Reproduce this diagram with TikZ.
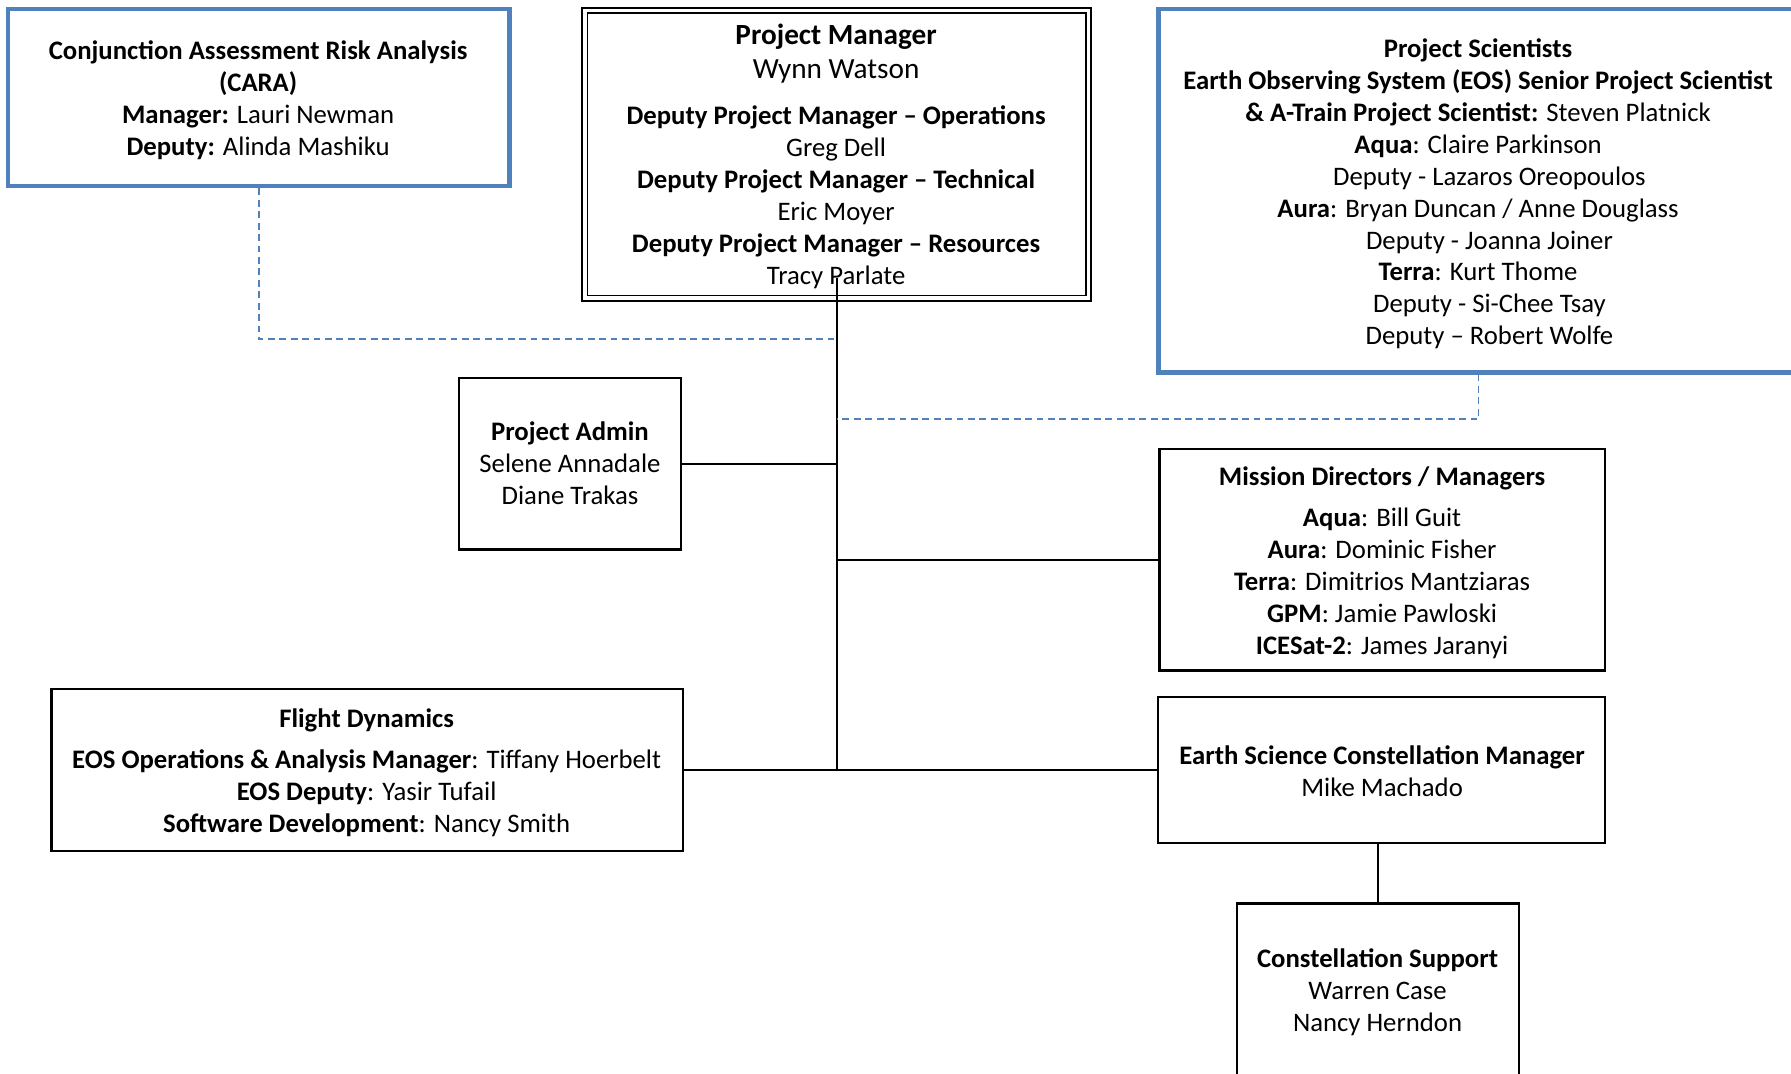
\documentclass[tikz,border=0pt]{standalone}
\usepackage{fontspec}
\setmainfont{Carlito}
\usetikzlibrary{fit}
\definecolor{ablue}{RGB}{79,129,189}
\begin{document}
\begin{tikzpicture}[x=0.5pt,y=-0.5pt,
  bluebox/.style={draw=ablue,line width=2pt,inner sep=0pt},
  blkbox/.style={draw=black,line width=1pt,inner sep=0pt},
  dblbox/.style={draw=black,double,line width=0.75pt,double distance=1.5pt,inner sep=0pt},
  txt/.style={align=center,anchor=base,inner sep=0pt,font=\fontsize{11.7}{14}\selectfont},
  conn/.style={line width=0.75pt},
  dashconn/.style={draw=ablue,line width=0.75pt,dash pattern=on 3pt off 2pt}]
\useasboundingbox (0,0) rectangle (1568,940);
\clip (0,0) rectangle (1568,940);
\fill[white] (0,0) rectangle (1568,940);
% boxes
\node[bluebox,fit={(7,8) (446,163)}] (cara) {};
\node[dblbox,fit={(512,9) (953,261)}] (pm) {};
\node[bluebox,fit={(1014,8) (1575,326)}] (ps) {};
\node[blkbox,fit={(402,331) (596,481)}] (admin) {};
\node[blkbox,fit={(1015,393) (1405,587)}] (md) {};
\node[blkbox,fit={(45,603) (598,745)}] (fd) {};
\node[blkbox,fit={(1014,610) (1405,738)}] (escm) {};
\node[blkbox,fit={(1083,791) (1330,960)}] (cs) {};
% connectors
\coordinate (ttop) at ([yshift=9pt]pm.south);
\coordinate (tbot) at (ttop |- fd.east);
\coordinate (cj) at (ttop |- 0,297);
\coordinate (pj) at (ttop |- 0,367);
\draw[conn] (ttop) -- (tbot);
\draw[conn] (admin.east) -- (admin.east -| ttop);
\draw[conn] (md.west) -- (md.west -| ttop);
\draw[conn] (fd.east) -- (escm.west);
\draw[conn] (cs.north) -- (cs.north |- escm.south);
\draw[dashconn] (cara.south) |- (cj);
\draw[dashconn] (ps.south) |- (pj);
% texts (anchor = baseline of the last line)
\node[txt] (caratxt) at (226,136) {\textbf{Conjunction Assessment Risk Analysis}\\\textbf{(CARA)}\\\textbf{Manager:} Lauri Newman\\\textbf{Deputy:} Alinda Mashiku};
\node[txt,font=\fontsize{12.8}{15}\selectfont] (pmhead) at (732,69) {\textbf{Project Manager}\\Wynn Watson};
\node[txt] (pmdep) at (732,249) {\textbf{Deputy Project Manager – Operations}\\Greg Dell\\\textbf{Deputy Project Manager – Technical}\\Eric Moyer\\\textbf{Deputy Project Manager – Resources}\\Tracy Parlate};
\node[txt] (pstxt) at (1294,302) {\textbf{Project Scientists}\\\textbf{Earth Observing System (EOS) Senior Project Scientist}\\\textbf{\& A-Train Project Scientist:} Steven Platnick\\\textbf{Aqua}: Claire Parkinson\\\kern10pt Deputy - Lazaros Oreopoulos\\\textbf{Aura}: Bryan Duncan / Anne Douglass\\\kern10pt Deputy - Joanna Joiner\\\textbf{Terra}: Kurt Thome\\\kern10pt Deputy - Si-Chee Tsay\\\kern10pt Deputy – Robert Wolfe};
\node[txt] (admintxt) at (499,442) {\textbf{Project Admin}\\Selene Annadale\\Diane Trakas};
\node[txt] (mdtxt) at (1210,573) {\textbf{Mission Directors / Managers}\\[4pt]\textbf{Aqua}: Bill Guit\\\textbf{Aura}: Dominic Fisher\\\textbf{Terra}: Dimitrios Mantziaras\\\textbf{GPM}: Jamie Pawloski\\\textbf{ICESat-2}: James Jaranyi};
\node[txt] (fdtxt) at (321,729) {\textbf{Flight Dynamics}\\[4pt]\textbf{EOS Operations \& Analysis Manager}: Tiffany Hoerbelt\\\textbf{EOS Deputy}: Yasir Tufail\\\textbf{Software Development}: Nancy Smith};
\node[txt] (escmtxt) at (1210,697) {\textbf{Earth Science Constellation Manager}\\Mike Machado};
\node[txt] (cstxt) at (1206,903) {\textbf{Constellation Support}\\Warren Case\\Nancy Herndon};
\end{tikzpicture}
\end{document}
